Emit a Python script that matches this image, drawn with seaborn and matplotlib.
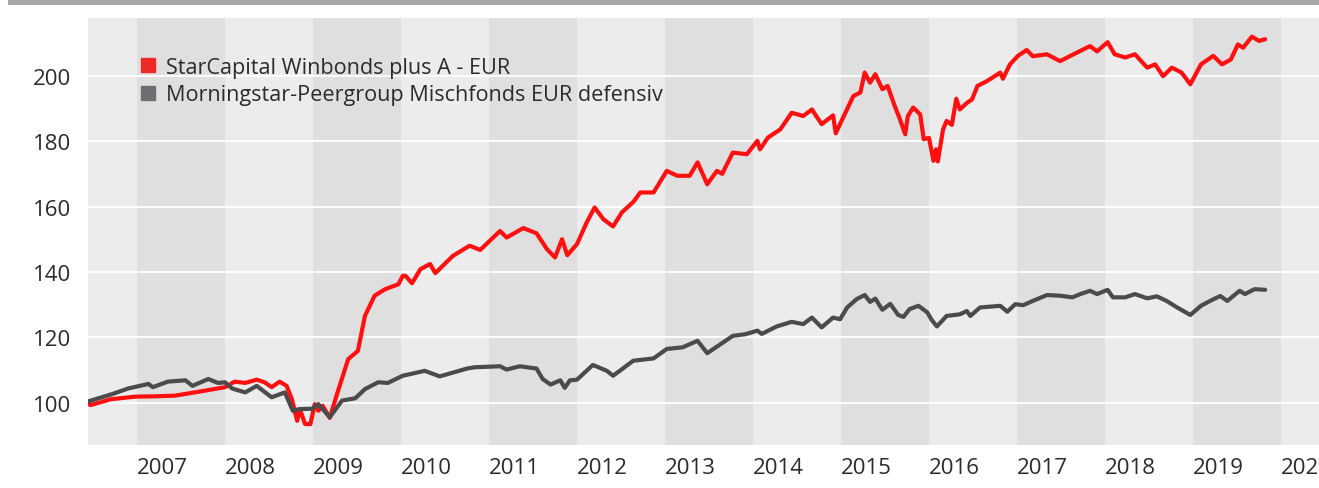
import numpy as np
import pandas as pd
import matplotlib
matplotlib.use('Agg')
import matplotlib.pyplot as plt
from matplotlib.lines import Line2D
from matplotlib.patches import Rectangle
import seaborn as sns

# Zeitachse in Dezimaljahren, Werte indexiert auf 100
star_name = 'StarCapital Winbonds plus A - EUR'
star_t = [2006.44, 2006.47, 2006.70, 2006.98, 2007.20, 2007.43, 2007.70, 2008.0, 2008.11,
          2008.23, 2008.36, 2008.45, 2008.53, 2008.62, 2008.70, 2008.76, 2008.82, 2008.85,
          2008.91, 2008.97, 2009.02, 2009.06, 2009.11, 2009.19, 2009.28, 2009.40, 2009.51,
          2009.59, 2009.70, 2009.82, 2009.97, 2010.02, 2010.05, 2010.125, 2010.22, 2010.33,
          2010.39, 2010.59, 2010.78, 2010.90, 2011.125, 2011.20, 2011.39, 2011.54, 2011.66,
          2011.75, 2011.83, 2011.89, 2012.0, 2012.11, 2012.20, 2012.30, 2012.41, 2012.51,
          2012.64, 2012.72, 2012.87, 2013.02, 2013.14, 2013.28, 2013.37, 2013.48, 2013.59,
          2013.65, 2013.77, 2013.93, 2014.05, 2014.08, 2014.17, 2014.31, 2014.44, 2014.57,
          2014.67, 2014.78, 2014.91, 2014.94, 2015.02, 2015.14, 2015.22, 2015.27, 2015.33,
          2015.39, 2015.47, 2015.53, 2015.61, 2015.67, 2015.73, 2015.76, 2015.82, 2015.90,
          2015.94, 2016.0, 2016.05, 2016.08, 2016.10, 2016.16, 2016.20, 2016.26, 2016.31,
          2016.35, 2016.43, 2016.49, 2016.55, 2016.66, 2016.81, 2016.84, 2016.92, 2017.01,
          2017.11, 2017.18, 2017.34, 2017.49, 2017.68, 2017.83, 2017.91, 2018.03, 2018.11,
          2018.23, 2018.34, 2018.48, 2018.57, 2018.66, 2018.76, 2018.87, 2018.97, 2019.09,
          2019.23, 2019.33, 2019.43, 2019.51, 2019.57, 2019.67, 2019.75, 2019.82]
star_v = [100.0, 99.2, 101.0, 101.8, 101.9, 102.1, 103.3, 104.7, 106.4,
          106.0, 107.0, 106.2, 104.7, 106.4, 105.1, 101.0, 94.4, 98.0,
          93.4, 93.4, 99.5, 97.5, 99.0, 95.3, 103.2, 113.3, 115.8,
          126.5, 132.7, 134.7, 136.2, 138.8, 138.8, 136.5, 140.8, 142.4,
          139.6, 144.9, 148.0, 146.7, 152.5, 150.5, 153.4, 151.8, 146.9,
          144.4, 150.0, 145.1, 148.5, 155.1, 159.7, 156.1, 153.9, 158.2,
          161.4, 164.3, 164.3, 170.9, 169.4, 169.4, 173.5, 166.8, 170.9,
          170.0, 176.5, 176.0, 180.1, 177.5, 181.1, 183.6, 188.7, 187.7,
          189.7, 185.2, 187.9, 182.4, 187.0, 193.8, 194.9, 201.0, 197.9,
          200.5, 195.9, 196.9, 190.8, 186.7, 182.1, 187.7, 190.3, 188.2,
          180.6, 181.0, 174.0, 177.5, 173.8, 183.6, 186.2, 185.0, 193.0,
          189.7, 191.7, 192.8, 196.9, 198.4, 201.0, 199.1, 203.5, 206.1,
          207.9, 206.0, 206.6, 204.5, 207.1, 209.1, 207.5, 210.3, 206.6,
          205.6, 206.6, 202.5, 203.5, 199.9, 202.5, 201.0, 197.4, 203.5,
          206.1, 203.5, 205.0, 209.6, 208.6, 212.0, 210.7, 211.2]

peer_name = 'Morningstar-Peergroup Mischfonds EUR defensiv'
peer_t = [2006.44, 2006.72, 2006.90, 2007.13, 2007.18, 2007.35, 2007.55, 2007.63, 2007.81,
          2007.92, 2008.0, 2008.08, 2008.23, 2008.36, 2008.53, 2008.68, 2008.77, 2008.85,
          2008.99, 2009.06, 2009.19, 2009.33, 2009.48, 2009.59, 2009.74, 2009.85, 2010.02,
          2010.27, 2010.44, 2010.75, 2010.84, 2011.125, 2011.20, 2011.35, 2011.54, 2011.61,
          2011.70, 2011.81, 2011.86, 2011.92, 2012.0, 2012.18, 2012.34, 2012.41, 2012.64,
          2012.87, 2013.02, 2013.20, 2013.37, 2013.48, 2013.77, 2013.91, 2014.05, 2014.10,
          2014.27, 2014.44, 2014.57, 2014.67, 2014.78, 2014.91, 2014.99, 2015.07, 2015.18,
          2015.27, 2015.33, 2015.39, 2015.47, 2015.56, 2015.65, 2015.71, 2015.78, 2015.88,
          2015.98, 2016.03, 2016.09, 2016.20, 2016.35, 2016.43, 2016.47, 2016.58, 2016.81,
          2016.89, 2016.98, 2017.07, 2017.18, 2017.34, 2017.49, 2017.63, 2017.72, 2017.83,
          2017.91, 2018.03, 2018.09, 2018.23, 2018.34, 2018.48, 2018.59, 2018.70, 2018.82,
          2018.97, 2019.09, 2019.23, 2019.31, 2019.39, 2019.53, 2019.59, 2019.70, 2019.82]
peer_v = [100.3, 102.6, 104.3, 105.7, 104.7, 106.4, 106.8, 105.1, 107.2,
          106.0, 106.2, 104.3, 103.1, 105.1, 101.6, 103.1, 97.5, 98.0,
          98.1, 99.5, 95.5, 100.6, 101.3, 104.1, 106.2, 106.0, 108.2,
          109.7, 108.0, 110.4, 110.8, 111.1, 110.1, 111.1, 110.4, 107.2,
          105.5, 106.8, 104.5, 106.8, 107.0, 111.5, 109.7, 108.2, 112.8,
          113.5, 116.4, 116.9, 118.9, 115.1, 120.4, 120.9, 122.0, 121.0,
          123.3, 124.7, 124.0, 126.0, 123.0, 126.0, 125.5, 129.1, 131.7,
          132.9, 130.8, 131.8, 128.4, 130.2, 126.8, 126.2, 128.6, 129.6,
          127.6, 125.3, 123.3, 126.5, 127.0, 128.0, 126.5, 129.1, 129.6,
          127.8, 130.1, 129.8, 131.1, 132.9, 132.7, 132.2, 133.2, 134.2,
          133.2, 134.5, 132.2, 132.2, 133.2, 131.9, 132.5, 131.1, 129.1,
          126.8, 129.6, 131.6, 132.6, 131.1, 134.2, 133.2, 134.7, 134.5]

years = list(range(2007, 2021))
y_ticks = [100, 120, 140, 160, 180, 200]

df = pd.concat([
    pd.DataFrame({'Jahr': star_t, 'Wert': star_v, 'Fonds': star_name}),
    pd.DataFrame({'Jahr': peer_t, 'Wert': peer_v, 'Fonds': peer_name}),
])

sns.set_style('white')
plt.rcParams['font.family'] = ['Open Sans', 'DejaVu Sans']

red = '#ff0f0f'
grey = '#4b4b4b'

fig = plt.figure(figsize=(13.19, 4.89), dpi=100)
ax = fig.add_axes([88 / 1319, 1 - 446 / 489, 1 - 88 / 1319, (446 - 19) / 489])
ax.set_facecolor('#ececec')

# Jahresbänder
for yr in range(2007, 2021, 2):
    ax.axvspan(yr, yr + 1, color='#dfdfdf', lw=0, zorder=0)
for yv in y_ticks:
    ax.axhline(yv, color='white', lw=1.3, zorder=1)

sns.lineplot(data=df, x='Jahr', y='Wert', hue='Fonds', palette=[red, grey],
             linewidth=3.0, ax=ax, legend=False, zorder=3, sort=False)

ax.set_xlim(2006.443, 2020.432)
ax.set_ylim(87, 217.7)
ax.set_xticks(years)
ax.set_xticklabels([str(y) for y in years], ha='left')
ax.set_yticks(y_ticks)
ax.tick_params(axis='both', length=0, labelsize=16, labelcolor='#2b2b2b')
ax.tick_params(axis='x', pad=9)
ax.tick_params(axis='y', pad=12)
ax.set_xlabel('')
ax.set_ylabel('')
for s in ax.spines.values():
    s.set_visible(False)

handles = [Line2D([], [], ls='', marker='s', markersize=10.5, color='#ee2a24'),
           Line2D([], [], ls='', marker='s', markersize=10.5, color='#6d6e71')]
ax.legend(handles, [star_name, peer_name], loc='upper left', frameon=False,
          bbox_to_anchor=(0.027, 0.955), fontsize=15.6, handlelength=0.7,
          handletextpad=0.45, labelspacing=0.3, labelcolor='#2b2b2b')

fig.patches.append(Rectangle((8 / 1319, 1 - 6 / 489), 1, 6 / 489,
                             transform=fig.transFigure, color='#a7a8ac', lw=0))

fig.savefig('out.png', dpi=100)
